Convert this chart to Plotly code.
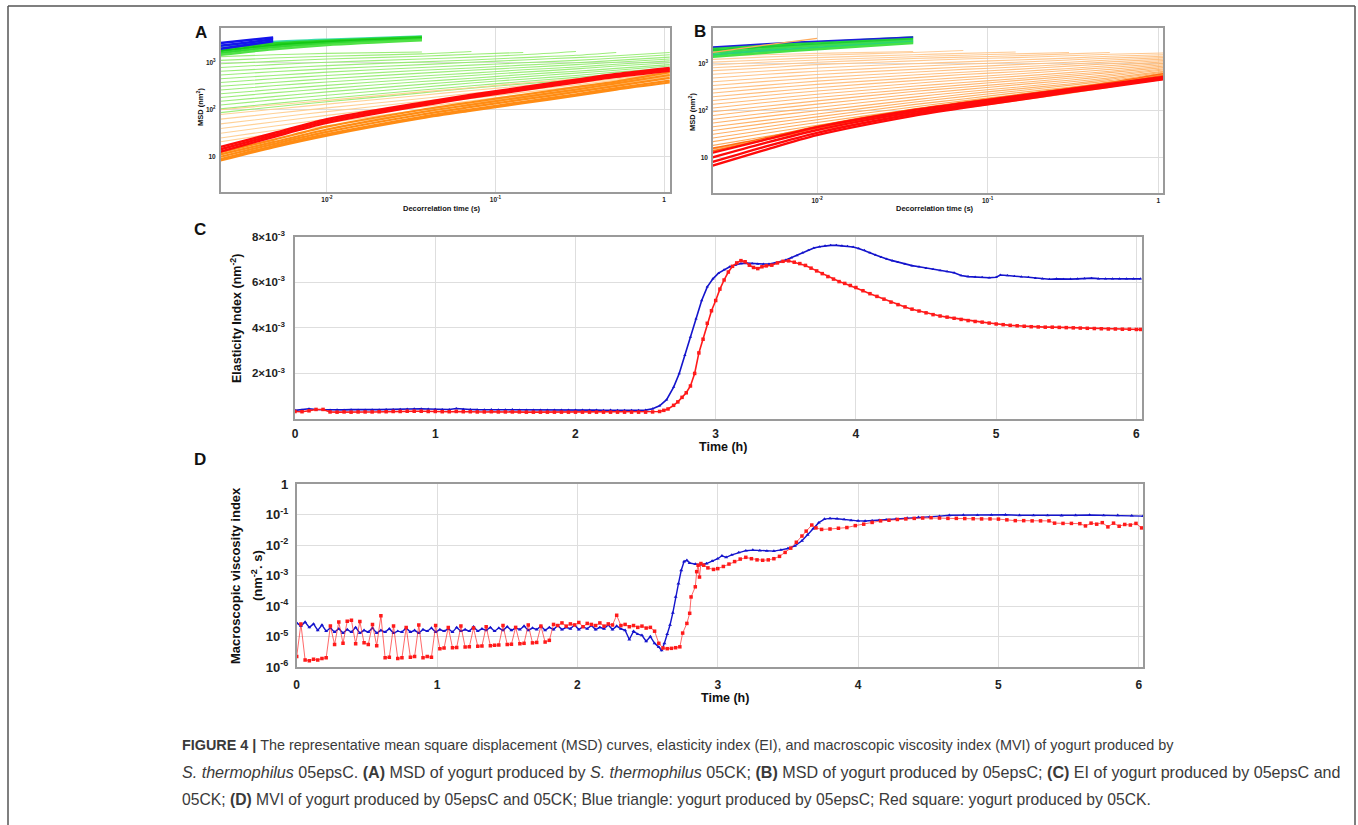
import plotly.graph_objects as go

W, H = 1358, 825
def fx(p): return p / W
def fy(p): return 1 - p / H

FONT = "Liberation Sans, Arial, sans-serif"

# ---------------- data: MSD curves (panels A, B) ----------------
MSD_TIMES = [0.00234, 0.0048, 0.01, 0.0366, 0.072, 0.146, 0.3, 0.52, 1.08]

# values are log10(MSD / nm^2) read at MSD_TIMES (curves may stop early)
A_BLUE_LOG = [
    [3.42, 3.54],
    [3.36, 3.50],
    [3.30, 3.46],
]
A_GREEN_LOG = [
    [3.36, 3.44, 3.49, 3.56],
    [3.30, 3.41, 3.47, 3.55],
    [3.25, 3.37, 3.44, 3.52],
    [3.21, 3.33, 3.41, 3.50],
    [3.17, 3.29, 3.38, 3.48],
]
A_LIGHTGREEN_LOG = [
    [3.13, 3.17, 3.20, 3.23],
    [3.05, 3.10, 3.14, 3.19, 3.24],
    [2.98, 3.03, 3.08, 3.14, 3.18, 3.22],
    [2.90, 2.96, 3.01, 3.08, 3.12, 3.17, 3.24],
    [2.82, 2.88, 2.94, 3.02, 3.06, 3.11, 3.16, 3.22],
    [2.74, 2.81, 2.87, 2.96, 3.01, 3.06, 3.11, 3.15, 3.22],
    [2.66, 2.73, 2.80, 2.90, 2.95, 3.00, 3.05, 3.10, 3.17],
    [2.58, 2.66, 2.73, 2.84, 2.89, 2.95, 3.00, 3.05, 3.12],
    [2.50, 2.58, 2.66, 2.78, 2.84, 2.90, 2.96, 3.01, 3.08],
    [2.42, 2.51, 2.59, 2.72, 2.78, 2.85, 2.91, 2.97, 3.04],
    [2.34, 2.43, 2.52, 2.66, 2.73, 2.80, 2.87, 2.93, 3.00],
    [2.26, 2.36, 2.45, 2.60, 2.67, 2.75, 2.82, 2.88, 2.96],
    [2.18, 2.28, 2.38, 2.54, 2.62, 2.70, 2.78, 2.84, 2.93],
    [2.10, 2.21, 2.31, 2.48, 2.57, 2.65, 2.73, 2.80, 2.89],
    [2.02, 2.13, 2.24, 2.42, 2.51, 2.60, 2.69, 2.76, 2.86],
    [1.94, 2.06, 2.17, 2.36, 2.46, 2.55, 2.64, 2.72, 2.83],
]
A_LIGHTORANGE_LOG = [
    [2.00, 2.10, 2.20, 2.38, 2.47, 2.57, 2.66, 2.74, 2.86],
    [1.90, 2.01, 2.12, 2.31, 2.41, 2.51, 2.61, 2.70, 2.83],
    [1.80, 1.92, 2.04, 2.24, 2.35, 2.46, 2.57, 2.66, 2.80],
    [1.70, 1.83, 1.96, 2.18, 2.29, 2.41, 2.53, 2.63, 2.78],
    [1.60, 1.74, 1.88, 2.12, 2.24, 2.37, 2.49, 2.60, 2.76],
    [1.50, 1.65, 1.80, 2.06, 2.19, 2.33, 2.46, 2.57, 2.74],
    [1.40, 1.56, 1.72, 2.00, 2.14, 2.29, 2.43, 2.55, 2.72],
    [1.32, 1.49, 1.66, 1.95, 2.10, 2.25, 2.40, 2.53, 2.71],
]
A_ORANGE_LOG = [
    [1.10, 1.36, 1.64, 2.00, 2.16, 2.32, 2.48, 2.60, 2.80],
    [1.05, 1.31, 1.58, 1.95, 2.11, 2.27, 2.43, 2.56, 2.74],
    [1.00, 1.27, 1.53, 1.90, 2.06, 2.22, 2.38, 2.51, 2.68],
    [0.95, 1.23, 1.48, 1.85, 2.01, 2.17, 2.33, 2.46, 2.62],
    [0.92, 1.20, 1.45, 1.82, 1.98, 2.14, 2.30, 2.43, 2.58],
]
A_RED_LOG = [
    [1.21, 1.50, 1.80, 2.15, 2.32, 2.48, 2.64, 2.76, 2.89],
    [1.16, 1.46, 1.76, 2.12, 2.29, 2.45, 2.61, 2.73, 2.86],
    [1.11, 1.42, 1.72, 2.09, 2.26, 2.42, 2.58, 2.70, 2.83],
]

B_BLUE_LOG = [
    [3.34, 3.41, 3.47, 3.56],
]
B_GREEN_LOG = [
    [3.32, 3.38, 3.44, 3.55],
    [3.27, 3.34, 3.40, 3.51],
    [3.22, 3.30, 3.37, 3.48],
    [3.17, 3.26, 3.33, 3.45],
    [3.13, 3.22, 3.30, 3.43],
]
B_ORANGE_LOG = [
    [3.22, 3.38, 3.53],
    [3.14, 3.18, 3.21, 3.25],
    [3.08, 3.13, 3.17, 3.23, 3.27],
    [3.02, 3.07, 3.12, 3.18, 3.21, 3.24],
    [2.96, 3.02, 3.07, 3.14, 3.17, 3.20, 3.23],
    [2.90, 2.96, 3.02, 3.10, 3.13, 3.16, 3.20, 3.23],
    [2.84, 2.90, 2.97, 3.05, 3.09, 3.12, 3.16, 3.19, 3.22],
    [2.76, 2.83, 2.90, 2.99, 3.03, 3.07, 3.11, 3.15, 3.18],
    [2.68, 2.76, 2.83, 2.93, 2.98, 3.02, 3.07, 3.11, 3.15],
    [2.60, 2.68, 2.76, 2.87, 2.92, 2.97, 3.02, 3.07, 3.12],
    [2.52, 2.61, 2.69, 2.81, 2.87, 2.92, 2.98, 3.03, 3.09],
    [2.44, 2.53, 2.62, 2.75, 2.81, 2.87, 2.94, 2.99, 3.06],
    [2.36, 2.46, 2.55, 2.69, 2.76, 2.82, 2.89, 2.95, 3.03],
    [2.28, 2.38, 2.48, 2.63, 2.70, 2.77, 2.85, 2.91, 3.00],
    [2.20, 2.31, 2.41, 2.57, 2.65, 2.72, 2.80, 2.87, 2.97],
    [2.12, 2.23, 2.34, 2.51, 2.59, 2.67, 2.76, 2.83, 2.94],
    [2.04, 2.16, 2.27, 2.45, 2.54, 2.63, 2.72, 2.80, 2.91],
    [1.96, 2.08, 2.20, 2.40, 2.49, 2.58, 2.68, 2.76, 2.88],
    [1.88, 2.01, 2.13, 2.34, 2.44, 2.54, 2.64, 2.73, 2.86],
    [1.80, 1.93, 2.06, 2.28, 2.39, 2.49, 2.60, 2.69, 2.83],
    [1.72, 1.86, 1.99, 2.22, 2.34, 2.45, 2.56, 2.66, 2.81],
    [1.64, 1.78, 1.92, 2.17, 2.29, 2.41, 2.53, 2.63, 2.79],
    [1.56, 1.71, 1.86, 2.12, 2.24, 2.37, 2.49, 2.60, 2.77],
    [1.48, 1.64, 1.80, 2.07, 2.20, 2.33, 2.46, 2.57, 2.75],
    [1.40, 1.57, 1.74, 2.02, 2.16, 2.29, 2.43, 2.55, 2.73],
    [1.32, 1.50, 1.68, 1.98, 2.12, 2.26, 2.40, 2.52, 2.72],
    [1.24, 1.43, 1.62, 1.94, 2.08, 2.23, 2.38, 2.50, 2.71],
    [1.16, 1.37, 1.57, 1.90, 2.05, 2.20, 2.36, 2.49, 2.70],
]
B_DARKORANGE_LOG = [
    [1.18, 1.40, 1.66, 2.02, 2.17, 2.32, 2.47, 2.59, 2.78],
    [1.12, 1.36, 1.62, 1.98, 2.13, 2.28, 2.44, 2.56, 2.74],
]
B_RED_LOG = [
    [1.08, 1.36, 1.64, 2.00, 2.15, 2.30, 2.45, 2.56, 2.71],
    [0.98, 1.29, 1.58, 1.96, 2.11, 2.27, 2.43, 2.54, 2.69],
    [0.88, 1.21, 1.52, 1.92, 2.08, 2.24, 2.40, 2.52, 2.67],
    [0.80, 1.14, 1.47, 1.88, 2.05, 2.21, 2.38, 2.50, 2.66],
]

# ---------------- data: Elasticity index (panel C), in 10^-3 nm^-2 ----------------
C_BLUE_T = [0.00, 0.05, 0.10, 0.15, 0.20, 0.25, 0.30, 0.35, 0.40, 0.45,
            0.50, 0.55, 0.60, 0.65, 0.70, 0.75, 0.80, 0.85, 0.90, 0.95,
            1.00, 1.05, 1.10, 1.15, 1.20, 1.25, 1.30, 1.35, 1.40, 1.45,
            1.50, 1.55, 1.60, 1.65, 1.70, 1.75, 1.80, 1.85, 1.90, 1.95,
            2.00, 2.05, 2.10, 2.15, 2.20, 2.25, 2.30, 2.35, 2.40, 2.45,
            2.50, 2.55, 2.60, 2.65, 2.70,
            2.74, 2.78, 2.82, 2.86, 2.90, 2.94, 2.98,
            3.02, 3.06, 3.10, 3.14, 3.18, 3.22, 3.26, 3.30, 3.34, 3.38,
            3.42, 3.46, 3.50, 3.54, 3.58, 3.62, 3.66, 3.70, 3.74, 3.78,
            3.82, 3.86, 3.90, 3.94, 3.98, 4.02, 4.06, 4.10, 4.14, 4.18,
            4.22, 4.26, 4.30,
            4.35, 4.40, 4.45, 4.50, 4.55, 4.60, 4.65, 4.70, 4.75, 4.80,
            4.85, 4.90, 4.95, 5.00,
            5.03, 5.08, 5.13, 5.18, 5.23, 5.28, 5.33, 5.38, 5.43, 5.48,
            5.53, 5.58, 5.63, 5.68, 5.73, 5.78, 5.83, 5.88, 5.93, 5.98,
            6.03]
C_BLUE_EI = [0.38, 0.40, 0.45, 0.42, 0.41, 0.40, 0.41, 0.40, 0.41, 0.40,
             0.40, 0.41, 0.41, 0.42, 0.42, 0.43, 0.44, 0.45, 0.45, 0.44,
             0.43, 0.42, 0.42, 0.46, 0.43, 0.42, 0.41, 0.41, 0.42, 0.41,
             0.41, 0.42, 0.40, 0.40, 0.40, 0.39, 0.39, 0.39, 0.39, 0.39,
             0.39, 0.39, 0.39, 0.39, 0.38, 0.39, 0.38, 0.38, 0.38, 0.38,
             0.39, 0.45, 0.58, 0.85, 1.40,
             2.00, 2.80, 3.60, 4.40, 5.20, 5.80, 6.15,
             6.40, 6.55, 6.68, 6.76, 6.82, 6.84, 6.82, 6.80, 6.80, 6.80,
             6.84, 6.90, 6.98, 7.08, 7.18, 7.30, 7.40, 7.50, 7.56, 7.60,
             7.62, 7.62, 7.60, 7.58, 7.55, 7.48, 7.40, 7.30, 7.20, 7.10,
             7.02, 6.95, 6.88,
             6.80, 6.73, 6.68, 6.62, 6.57, 6.52, 6.47, 6.42, 6.30, 6.25,
             6.23, 6.22, 6.20, 6.22,
             6.32, 6.30, 6.26, 6.24, 6.22, 6.18, 6.15, 6.13, 6.15, 6.13,
             6.14, 6.15, 6.17, 6.18, 6.16, 6.15, 6.16, 6.15, 6.15, 6.15,
             6.15]

C_RED_T = [0.00, 0.05, 0.10, 0.15, 0.20, 0.25, 0.30, 0.35, 0.40, 0.45,
           0.50, 0.55, 0.60, 0.65, 0.70, 0.75, 0.80, 0.85, 0.90, 0.95,
           1.00, 1.05, 1.10, 1.15, 1.20, 1.25, 1.30, 1.35, 1.40, 1.45,
           1.50, 1.55, 1.60, 1.65, 1.70, 1.75, 1.80, 1.85, 1.90, 1.95,
           2.00, 2.05, 2.10, 2.15, 2.20, 2.25, 2.30, 2.35, 2.40, 2.45,
           2.50, 2.55, 2.60,
           2.63, 2.66, 2.70, 2.73, 2.76, 2.79, 2.82, 2.85, 2.88, 2.91,
           2.94, 2.97, 3.00, 3.03, 3.06, 3.09, 3.12, 3.15, 3.18, 3.21,
           3.24, 3.27, 3.30, 3.33, 3.36, 3.40, 3.44, 3.48, 3.52, 3.56,
           3.60, 3.64, 3.68, 3.72, 3.76, 3.80, 3.84, 3.88, 3.92, 3.96,
           4.00, 4.05, 4.10, 4.15, 4.20, 4.25, 4.30, 4.35, 4.40, 4.45,
           4.50, 4.55, 4.60, 4.65, 4.70, 4.75, 4.80, 4.85, 4.90, 4.95,
           5.00, 5.05, 5.10, 5.15, 5.20, 5.25, 5.30, 5.35, 5.40, 5.45,
           5.50, 5.55, 5.60, 5.65, 5.70, 5.75, 5.80, 5.85, 5.90, 5.95,
           6.00, 6.03]
C_RED_EI = [0.33, 0.32, 0.36, 0.42, 0.42, 0.31, 0.30, 0.31, 0.30, 0.31,
            0.31, 0.31, 0.32, 0.32, 0.33, 0.33, 0.34, 0.34, 0.34, 0.33,
            0.33, 0.32, 0.32, 0.33, 0.32, 0.32, 0.31, 0.31, 0.32, 0.31,
            0.31, 0.31, 0.31, 0.30, 0.30, 0.30, 0.30, 0.30, 0.30, 0.30,
            0.30, 0.30, 0.30, 0.30, 0.30, 0.30, 0.30, 0.30, 0.30, 0.30,
            0.30, 0.31, 0.33,
            0.38, 0.44, 0.60, 0.75, 0.95, 1.15, 1.45, 2.00, 2.90, 3.50,
            4.20, 4.75, 5.20, 5.70, 6.10, 6.45, 6.70, 6.85, 6.95, 6.90,
            6.75, 6.65, 6.60, 6.68, 6.72, 6.75, 6.85, 6.92, 6.94, 6.88,
            6.82, 6.74, 6.62, 6.50, 6.38, 6.25, 6.14, 6.03, 5.95, 5.86,
            5.77, 5.63, 5.50, 5.38, 5.26, 5.13, 5.02, 4.92, 4.82, 4.74,
            4.66, 4.58, 4.52, 4.47, 4.42, 4.37, 4.32, 4.28, 4.25, 4.21,
            4.17, 4.14, 4.11, 4.09, 4.07, 4.05, 4.04, 4.03, 4.03, 4.02,
            4.01, 4.00, 3.99, 3.98, 3.97, 3.96, 3.95, 3.95, 3.94, 3.94,
            3.93, 3.93]

# ---------------- data: Macroscopic viscosity index (panel D), nm^-2 s ----------------
D_BLUE_T = [0.00, 0.03, 0.06, 0.09, 0.12, 0.15, 0.18, 0.21, 0.24, 0.27,
            0.30, 0.33, 0.36, 0.39, 0.42, 0.45, 0.48, 0.51, 0.54, 0.57,
            0.60, 0.63, 0.66, 0.69, 0.72, 0.75, 0.78, 0.81, 0.84, 0.87,
            0.90, 0.93, 0.96, 0.99, 1.02, 1.05, 1.08, 1.11, 1.14, 1.17,
            1.20, 1.23, 1.26, 1.29, 1.32, 1.35, 1.38, 1.41, 1.44, 1.47,
            1.50, 1.53, 1.56, 1.59, 1.62, 1.65, 1.68, 1.71, 1.74, 1.77,
            1.80, 1.83, 1.86, 1.89, 1.92, 1.95, 1.98, 2.01, 2.04, 2.07,
            2.10, 2.13, 2.16, 2.19, 2.22, 2.25, 2.28, 2.31, 2.34, 2.37,
            2.40, 2.43, 2.46, 2.49, 2.52, 2.55,
            2.58, 2.60, 2.62, 2.64, 2.66, 2.68, 2.70, 2.72, 2.74, 2.76,
            2.78, 2.80, 2.84, 2.88, 2.92, 2.96, 3.00, 3.03, 3.06, 3.10,
            3.15, 3.20, 3.25, 3.30, 3.35, 3.40, 3.45, 3.50, 3.55, 3.60,
            3.64, 3.68, 3.72, 3.76, 3.80, 3.85, 3.90, 3.95, 4.00, 4.05,
            4.10, 4.15, 4.20, 4.27, 4.35, 4.43, 4.51, 4.58, 4.65, 4.75,
            4.85, 4.95, 5.05, 5.15, 5.25, 5.35, 5.45, 5.55, 5.65, 5.75,
            5.85, 5.95, 6.03]
D_BLUE_MVI = [2.8e-5, 2.2e-5, 3.0e-5, 2.0e-5, 2.6e-5, 1.6e-5, 2.4e-5, 1.5e-5, 1.9e-5, 1.4e-5,
              1.8e-5, 1.3e-5, 1.7e-5, 1.4e-5, 2.0e-5, 1.3e-5, 1.6e-5, 1.4e-5, 1.9e-5, 1.3e-5,
              1.6e-5, 1.4e-5, 1.8e-5, 1.3e-5, 1.5e-5, 1.4e-5, 1.9e-5, 1.4e-5, 1.6e-5, 1.3e-5,
              1.7e-5, 1.5e-5, 1.9e-5, 1.4e-5, 1.7e-5, 1.5e-5, 1.8e-5, 1.4e-5, 2.0e-5, 1.5e-5,
              1.7e-5, 1.5e-5, 2.1e-5, 1.5e-5, 1.8e-5, 1.6e-5, 2.0e-5, 1.5e-5, 1.9e-5, 1.6e-5,
              2.1e-5, 1.6e-5, 1.9e-5, 1.7e-5, 2.2e-5, 1.6e-5, 1.9e-5, 1.7e-5, 2.2e-5, 1.6e-5,
              2.0e-5, 1.7e-5, 2.3e-5, 1.7e-5, 2.0e-5, 1.8e-5, 2.4e-5, 1.7e-5, 2.1e-5, 1.8e-5,
              2.3e-5, 1.7e-5, 2.0e-5, 1.8e-5, 2.4e-5, 1.7e-5, 2.2e-5, 1.8e-5, 1.6e-5, 8.0e-6,
              1.5e-5, 1.2e-5, 1.1e-5, 7.0e-6, 1.0e-5, 6.0e-6,
              4.5e-6, 3.5e-6, 6.0e-6, 1.2e-5, 2.4e-5, 6.0e-5, 2.0e-4, 5.5e-4, 1.5e-3, 2.9e-3,
              3.2e-3, 2.6e-3, 2.4e-3, 2.3e-3, 2.5e-3, 3.0e-3, 3.6e-3, 4.5e-3, 4.0e-3, 4.8e-3,
              5.8e-3, 6.6e-3, 6.9e-3, 6.7e-3, 6.5e-3, 6.4e-3, 7.0e-3, 7.8e-3, 9.5e-3, 1.4e-2,
              2.2e-2, 3.5e-2, 5.5e-2, 7.2e-2, 7.6e-2, 7.4e-2, 7.0e-2, 6.5e-2, 6.3e-2, 6.2e-2,
              6.4e-2, 6.6e-2, 6.9e-2, 7.2e-2, 7.8e-2, 8.2e-2, 8.5e-2, 9.0e-2, 9.6e-2, 9.8e-2,
              9.7e-2, 9.9e-2, 1.0e-1, 9.6e-2, 9.5e-2, 9.5e-2, 9.4e-2, 9.6e-2, 9.8e-2, 9.5e-2,
              9.6e-2, 9.3e-2, 9.0e-2]

D_RED_T = [0.00, 0.03, 0.06, 0.09, 0.12, 0.15, 0.18, 0.21, 0.24, 0.27,
           0.30, 0.33, 0.36, 0.39, 0.42, 0.45, 0.48, 0.51, 0.54, 0.57,
           0.60, 0.63, 0.66, 0.69, 0.72, 0.75, 0.78, 0.81, 0.84, 0.87,
           0.90, 0.93, 0.96, 0.99, 1.02, 1.05, 1.08, 1.11, 1.14, 1.17,
           1.20, 1.23, 1.26, 1.29, 1.32, 1.35, 1.38, 1.41, 1.44, 1.47,
           1.50, 1.53, 1.56, 1.59, 1.62, 1.65, 1.68, 1.71, 1.74, 1.77,
           1.80, 1.83, 1.86, 1.89, 1.92, 1.95, 1.98, 2.01, 2.04, 2.07,
           2.10, 2.13, 2.16, 2.19, 2.22, 2.25, 2.28, 2.31, 2.34, 2.37,
           2.40, 2.43, 2.46, 2.49, 2.52, 2.55, 2.58, 2.61, 2.64, 2.67,
           2.70,
           2.73, 2.75, 2.78, 2.80, 2.81, 2.84, 2.85, 2.86, 2.87, 2.88,
           2.90, 2.93, 2.97, 3.00, 3.04, 3.08, 3.12, 3.16, 3.20, 3.24,
           3.28, 3.32, 3.36, 3.40, 3.44, 3.48, 3.52, 3.56, 3.60, 3.63,
           3.67, 3.70, 3.74, 3.80, 3.86, 3.92, 3.98, 4.04, 4.10, 4.16,
           4.22, 4.28, 4.34, 4.40, 4.46, 4.52, 4.58, 4.64, 4.70, 4.76,
           4.82, 4.88, 4.94, 5.00, 5.06, 5.12, 5.18, 5.24, 5.30, 5.36,
           5.40, 5.46, 5.52, 5.58, 5.62, 5.66, 5.70, 5.74, 5.78, 5.82,
           5.86, 5.90, 5.94, 5.98, 6.02]
D_RED_MVI = [2.2e-6, 2.6e-5, 1.7e-6, 1.6e-6, 1.8e-6, 1.7e-6, 1.9e-6, 2.0e-6, 2.2e-5, 5.5e-6,
             3.0e-5, 6.0e-6, 3.2e-5, 3.4e-5, 5.8e-6, 3.1e-5, 6.2e-6, 5.5e-6, 2.5e-5, 5.0e-6,
             4.8e-5, 2.0e-6, 2.1e-6, 2.2e-5, 1.9e-6, 2.0e-6, 2.0e-5, 2.1e-6, 2.2e-6, 2.4e-5,
             2.0e-6, 2.2e-6, 2.1e-6, 2.3e-5, 4.0e-6, 4.2e-6, 2.0e-5, 4.3e-6, 4.4e-6, 2.2e-5,
             4.5e-6, 4.6e-6, 1.9e-5, 4.8e-6, 4.9e-6, 2.1e-5, 5.0e-6, 5.2e-6, 5.3e-6, 2.3e-5,
             5.5e-6, 5.6e-6, 2.0e-5, 5.8e-6, 6.0e-6, 2.4e-5, 6.2e-6, 6.4e-6, 2.2e-5, 6.6e-6,
             7.5e-6, 2.5e-5, 2.3e-5, 2.8e-5, 2.2e-5, 2.6e-5, 2.4e-5, 2.9e-5, 2.1e-5, 2.7e-5,
             2.5e-5, 2.3e-5, 2.8e-5, 2.2e-5, 2.6e-5, 2.4e-5, 5.0e-5, 2.3e-5, 2.5e-5, 2.1e-5,
             2.3e-5, 2.0e-5, 2.2e-5, 1.9e-5, 2.0e-5, 1.5e-5, 6.0e-6, 4.2e-6, 4.0e-6, 4.1e-6,
             4.3e-6,
             4.6e-6, 1.3e-5, 2.7e-5, 5.8e-5, 2.0e-4, 4.3e-4, 1.35e-3, 2.2e-3, 9.0e-4, 2.5e-3,
             2.2e-3, 1.8e-3, 1.6e-3, 1.7e-3, 2.0e-3, 2.4e-3, 2.9e-3, 3.5e-3, 4.0e-3, 3.6e-3,
             3.3e-3, 3.2e-3, 3.3e-3, 3.6e-3, 4.3e-3, 5.8e-3, 8.0e-3, 1.25e-2, 2.0e-2, 2.9e-2,
             4.6e-2, 3.7e-2, 3.3e-2, 3.4e-2, 3.6e-2, 3.8e-2, 4.4e-2, 4.9e-2, 5.6e-2, 6.3e-2,
             6.6e-2, 7.0e-2, 7.3e-2, 7.6e-2, 7.8e-2, 8.0e-2, 7.8e-2, 7.6e-2, 7.6e-2, 7.5e-2,
             7.4e-2, 7.3e-2, 7.3e-2, 7.2e-2, 6.8e-2, 6.4e-2, 6.4e-2, 6.3e-2, 6.3e-2, 6.3e-2,
             5.3e-2, 5.2e-2, 5.2e-2, 5.1e-2, 4.3e-2, 5.3e-2, 4.9e-2, 5.5e-2, 4.0e-2, 5.3e-2,
             4.2e-2, 4.8e-2, 4.6e-2, 5.2e-2, 3.7e-2]

assert len(C_BLUE_T) == len(C_BLUE_EI)
assert len(C_RED_T) == len(C_RED_EI)
assert len(D_BLUE_T) == len(D_BLUE_MVI)
assert len(D_RED_T) == len(D_RED_MVI)

# ---------------- styles ----------------
BLUE = "#1414cc"
RED = "#ff1a1a"

fig = go.Figure()

def add_msd(rows, xa, ya, colors, width, opacity=1.0):
    for i, row in enumerate(rows):
        c = colors[i % len(colors)] if isinstance(colors, list) else colors
        fig.add_trace(go.Scatter(
            x=MSD_TIMES[:len(row)], y=[10 ** v for v in row],
            xaxis=xa, yaxis=ya, mode="lines",
            line=dict(color=c, width=width, shape="spline", smoothing=0.8), opacity=opacity,
            showlegend=False, hoverinfo="skip"))

# Panel A
add_msd(A_LIGHTGREEN_LOG, "x", "y", "rgb(140,235,100)", 1.1, 0.85)
add_msd(A_LIGHTORANGE_LOG, "x", "y", "rgb(255,205,140)", 1.1, 0.9)
add_msd(A_GREEN_LOG, "x", "y", ["rgb(60,220,170)", "rgb(40,210,40)", "rgb(20,200,20)",
                                 "rgb(50,215,50)", "rgb(80,225,70)"], 2.5)
add_msd(A_BLUE_LOG, "x", "y", "rgb(20,20,235)", 2.5)
add_msd(A_ORANGE_LOG, "x", "y", "rgb(255,140,20)", 2.2)
add_msd(A_RED_LOG, "x", "y", "rgb(255,10,10)", 2.4)

# Panel B
orange_cols = []
n_or = len(B_ORANGE_LOG)
for i in range(n_or):
    f = i / (n_or - 1)
    orange_cols.append("rgb(255,%d,%d)" % (int(205 - 45 * f), int(150 - 80 * f)))
add_msd(B_ORANGE_LOG[1:], "x2", "y2", orange_cols[1:], 1.1, 0.9)
add_msd(B_GREEN_LOG, "x2", "y2", ["rgb(40,215,60)", "rgb(30,205,50)", "rgb(60,220,80)",
                                   "rgb(40,210,120)", "rgb(70,225,70)"], 2.5)
add_msd(B_BLUE_LOG, "x2", "y2", "rgb(30,30,220)", 1.5)
add_msd(B_ORANGE_LOG[:1], "x2", "y2", "rgb(255,170,90)", 1.2)
add_msd(B_DARKORANGE_LOG, "x2", "y2", "rgb(255,110,20)", 1.6)
add_msd(B_RED_LOG, "x2", "y2", "rgb(255,10,10)", 2.4)

# Panel C
fig.add_trace(go.Scatter(x=C_BLUE_T, y=[v * 1e-3 for v in C_BLUE_EI], xaxis="x3", yaxis="y3",
                         mode="lines+markers", line=dict(color=BLUE, width=1.6),
                         marker=dict(symbol="triangle-up", size=3, color=BLUE),
                         showlegend=False, hoverinfo="skip"))
fig.add_trace(go.Scatter(x=C_RED_T, y=[v * 1e-3 for v in C_RED_EI], xaxis="x3", yaxis="y3",
                         mode="lines+markers", line=dict(color=RED, width=1.6),
                         marker=dict(symbol="square", size=3.5, color=RED),
                         showlegend=False, hoverinfo="skip"))

# Panel D
fig.add_trace(go.Scatter(x=D_BLUE_T, y=D_BLUE_MVI, xaxis="x4", yaxis="y4",
                         mode="lines+markers", line=dict(color=BLUE, width=1.4),
                         marker=dict(symbol="triangle-up", size=3.5, color=BLUE),
                         showlegend=False, hoverinfo="skip"))
fig.add_trace(go.Scatter(x=D_RED_T, y=D_RED_MVI, xaxis="x4", yaxis="y4",
                         mode="lines+markers", line=dict(color="rgba(255,30,30,0.75)", width=0.9),
                         marker=dict(symbol="square", size=3.5, color=RED),
                         showlegend=False, hoverinfo="skip"))

# ---------------- axes ----------------
def b(s):
    return "<b>" + s + "</b>"

frame = dict(showline=True, mirror=True, linecolor="#9a9a9a", linewidth=1.5, automargin=False,
             showgrid=True, gridcolor="#dedede", gridwidth=1, zeroline=False, ticks="")

small_tick = dict(size=6.5, color="#222", family=FONT)
fig.update_layout(
    xaxis=dict(frame, domain=[fx(220.7), fx(670)], anchor="y", type="log", range=[-2.63, 0.035],
               tickvals=[0.01, 0.1, 1], ticktext=[b("10<sup>-2</sup>"), b("10<sup>-1</sup>"), b("1")],
               tickfont=small_tick, ticklabelstandoff=0),
    yaxis=dict(frame, domain=[fy(192), fy(28)], anchor="x", type="log", range=[0.25, 3.74],
               tickvals=[10, 100, 1000], ticktext=[b("10"), b("10<sup>2</sup>"), b("10<sup>3</sup>")],
               tickfont=small_tick, ticklabelstandoff=2),
    xaxis2=dict(frame, domain=[fx(713), fx(1163)], anchor="y2", type="log", range=[-2.61, 0.028],
                tickvals=[0.01, 0.1, 1], ticktext=[b("10<sup>-2</sup>"), b("10<sup>-1</sup>"), b("1")],
                tickfont=small_tick, ticklabelstandoff=0),
    yaxis2=dict(frame, domain=[fy(193), fy(28)], anchor="x2", type="log", range=[0.24, 3.75],
                tickvals=[10, 100, 1000], ticktext=[b("10"), b("10<sup>2</sup>"), b("10<sup>3</sup>")],
                tickfont=small_tick, ticklabelstandoff=2),
    xaxis3=dict(frame, domain=[fx(295), fx(1142)], anchor="y3", range=[0, 6.04],
                tickvals=[0, 1, 2, 3, 4, 5, 6], ticktext=[b(str(i)) for i in range(7)],
                tickfont=dict(size=12, color="#222", family=FONT), ticklabelstandoff=3),
    yaxis3=dict(frame, domain=[fy(419), fy(236.7)], anchor="x3", range=[0, 0.008],
                tickvals=[0.002, 0.004, 0.006, 0.008],
                ticktext=[b("%d×10<sup>-3</sup>" % k) for k in (2, 4, 6, 8)],
                tickfont=dict(size=11.5, color="#222", family=FONT), ticklabelstandoff=6),
    xaxis4=dict(frame, domain=[fx(296.7), fx(1143)], anchor="y4", range=[0, 6.03],
                tickvals=[0, 1, 2, 3, 4, 5, 6], ticktext=[b(str(i)) for i in range(7)],
                tickfont=dict(size=12, color="#222", family=FONT), ticklabelstandoff=6),
    yaxis4=dict(frame, domain=[fy(667), fy(484.3)], anchor="x4", type="log", range=[-6, 0],
                tickvals=[1e-6, 1e-5, 1e-4, 1e-3, 1e-2, 1e-1, 1],
                ticktext=[b("10<sup>-%d</sup>" % k) for k in (6, 5, 4, 3, 2, 1)] + [b("1")],
                tickfont=dict(size=13, color="#222", family=FONT), ticklabelstandoff=4),
)

# ---------------- annotations ----------------
ann = []
def text(x, y, s, size, angle=0, xanchor="center", color="#111"):
    ann.append(dict(xref="paper", yref="paper", x=fx(x), y=fy(y), text=s, showarrow=False,
                    xanchor=xanchor, yanchor="middle", textangle=angle, borderpad=0,
                    font=dict(size=size, color=color, family=FONT)))

# panel letters
text(201, 32, b("A"), 17)
text(700, 31, b("B"), 17)
text(200, 229, b("C"), 17)
text(200, 459, b("D"), 17)

# axis titles
text(442, 208, b("Decorrelation time (s)"), 7.5)
text(200, 107, b("MSD (nm<sup>2</sup>)"), 7.5, angle=-90)
text(935, 208, b("Decorrelation time (s)"), 7.5)
text(692, 112, b("MSD (nm<sup>2</sup>)"), 7.5, angle=-90)
text(236, 319, b("Elasticity Index (nm<sup>-2</sup>)"), 12.5, angle=-90)
text(723, 447, b("Time (h)"), 12.5)
text(235, 576, b("Macroscopic viscosity index"), 13, angle=-90)
text(257, 576, b("(nm<sup>-2</sup>. s)"), 13, angle=-90)
text(725, 698, b("Time (h)"), 12.5)

# caption
CAP = "#3a3a3a"
text(181, 745, "<b>FIGURE 4 |</b> The representative mean square displacement (MSD) curves, elasticity index (EI), "
               "and macroscopic viscosity index (MVI) of yogurt produced by", 14.4, xanchor="left", color=CAP)
text(181, 772, "<i>S. thermophilus</i> 05epsC. <b>(A)</b> MSD of yogurt produced by <i>S. thermophilus</i> 05CK; "
               "<b>(B)</b> MSD of yogurt produced by 05epsC; <b>(C)</b> EI of yogurt produced by 05epsC and",
     16.1, xanchor="left", color=CAP)
text(181, 799, "05CK; <b>(D)</b> MVI of yogurt produced by 05epsC and 05CK; Blue triangle: yogurt produced by 05epsC; "
               "Red square: yogurt produced by 05CK.", 15.7, xanchor="left", color=CAP)

# outer figure frame (top, left, right; bottom edge lies outside the picture)
FR = dict(color="#555", width=1.5)
frame_shapes = [
    dict(type="line", xref="paper", yref="paper", x0=fx(8), x1=fx(1355), y0=fy(6), y1=fy(6), line=FR),
    dict(type="line", xref="paper", yref="paper", x0=fx(8), x1=fx(8), y0=fy(6), y1=0, line=FR),
    dict(type="line", xref="paper", yref="paper", x0=fx(1355), x1=fx(1355), y0=fy(6), y1=0, line=FR),
]

fig.update_layout(
    width=W, height=H, margin=dict(l=0, r=0, t=0, b=0, pad=0, autoexpand=False),
    paper_bgcolor="white", plot_bgcolor="white",
    annotations=ann,
    shapes=frame_shapes,
    showlegend=False,
    font=dict(family=FONT),
)

fig.write_html(
    "out.html",
    config={"displayModeBar": False, "responsive": False},
    post_script=("document.documentElement.style.margin='0';document.body.style.margin='0';"
                 "document.body.style.padding='0';document.documentElement.style.overflow='hidden';"
                 "document.body.style.overflow='hidden';"),
)
